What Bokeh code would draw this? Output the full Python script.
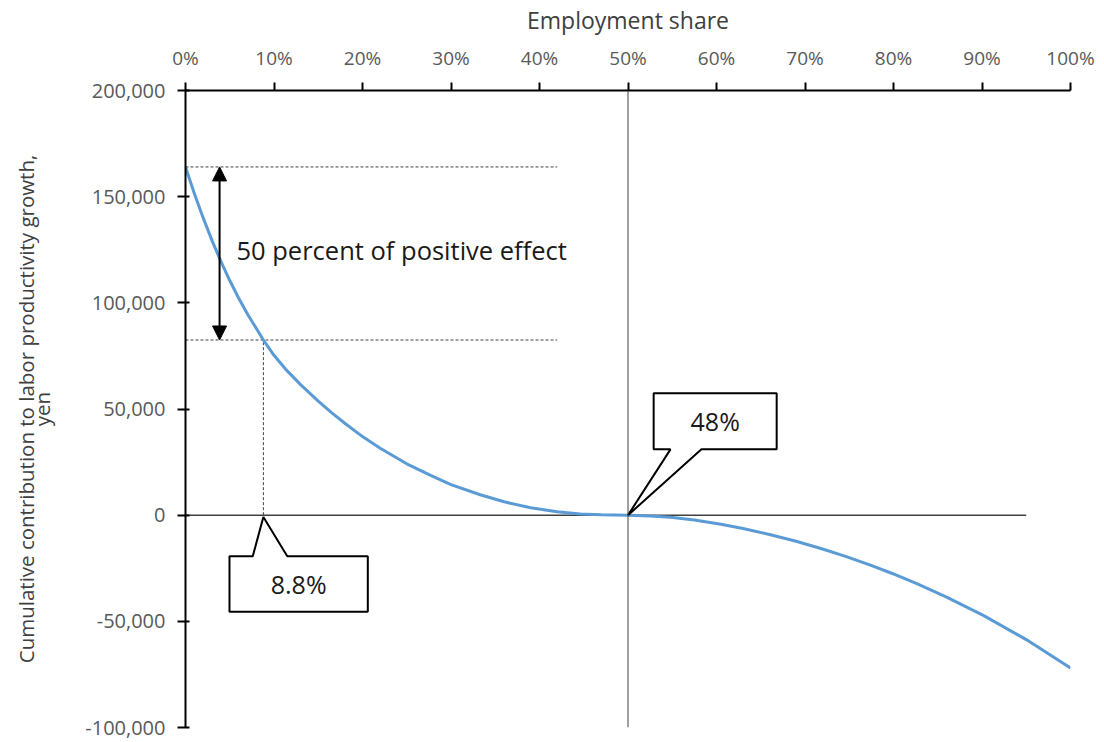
from bokeh.plotting import figure
from bokeh.models import (Range1d, FixedTicker, NumeralTickFormatter, Span, Arrow, NormalHead,
                          Label, LinearAxis)
from bokeh.embed import file_html
from bokeh.resources import INLINE

# ---- data ----
share = [0, 1, 2, 3, 4, 5, 6, 7, 8.8, 10, 11.3, 13, 15, 16.5, 18, 20, 22, 25, 27.7, 30, 33.3,
         36, 39, 42, 44.6, 47, 50, 52.5, 54.8, 57.5, 60.5, 63, 66.1, 69, 71.8, 74.5, 77.4, 80,
         82.7, 86, 90.2, 95, 100]
contribution = [164000, 151500, 140000, 129300, 119500, 110500, 102300, 94700, 82500, 75300,
                68800, 61500, 53700, 48300, 43300, 37000, 31500, 24200, 18700, 14400, 9600,
                6300, 3500, 1600, 600, 150, 0, -400, -1000, -2300, -4300, -6300, -9200, -12300,
                -15700, -19300, -23500, -27700, -32400, -38600, -47300, -58600, -72000]
x_ticks = [0, 10, 20, 30, 40, 50, 60, 70, 80, 90, 100]
x_tick_labels = ["0%", "10%", "20%", "30%", "40%", "50%", "60%", "70%", "80%", "90%", "100%"]
y_ticks = [-100000, -50000, 0, 50000, 100000, 150000, 200000]

total_effect = 164000          # cumulative positive effect
half_effect = 82500            # 50 percent of it
half_share = 8.8               # share reaching half of the effect
zero_share = 50                # vertical reference line
guide_end = 42                 # dashed guide end (share)
zero_line_end = 95
arrow_share = 3.85
effect_text = "50 percent of positive effect"
effect_text_pos = (5.76, 124900)

callout48 = dict(left=52.9, right=66.8, top=57400, bottom=31000, b0=54.8, b1=58.3, tx=50, ty=0,
                 text="48%", side="bottom")
callout88 = dict(left=4.97, right=20.6, top=-19300, bottom=-45500, b0=7.6, b1=11.5, tx=8.8, ty=-900,
                 text="8.8%", side="top")

FONT = "Open Sans"

p = figure(width=1096, height=742, x_range=Range1d(0, 100), y_range=Range1d(-100000, 200000),
           x_axis_location="above", output_backend="svg", toolbar_location=None,
           min_border_left=185, min_border_top=89, min_border_right=26, min_border_bottom=15)
p.grid.visible = False
p.outline_line_color = None
p.background_fill_color = "white"

# x axis (top)
xa = p.xaxis[0]
xa.ticker = FixedTicker(ticks=x_ticks)
xa.major_label_overrides = {t: l for t, l in zip(x_ticks, x_tick_labels)}
xa.axis_label = "Employment share"
xa.axis_label_text_font = FONT
xa.axis_label_text_font_size = "23px"
xa.axis_label_text_font_style = "normal"
xa.axis_label_text_color = "#404040"
xa.axis_label_standoff = 6
xa.major_label_text_font = FONT
xa.major_label_text_font_size = "19px"
xa.major_label_text_color = "#595959"
xa.major_label_standoff = 12
xa.major_tick_out = 8
xa.major_tick_in = 0
xa.minor_tick_out = 0
xa.minor_tick_in = 0
xa.axis_line_width = 2
xa.axis_line_color = "black"
xa.major_tick_line_width = 2
xa.major_tick_line_color = "black"

# y axis (left)
ya = p.yaxis[0]
ya.ticker = FixedTicker(ticks=y_ticks)
ya.formatter = NumeralTickFormatter(format="0,0")
ya.axis_label = "yen"
ya.axis_label_text_font = FONT
ya.axis_label_text_font_size = "20.5px"
ya.axis_label_text_font_style = "normal"
ya.axis_label_text_color = "#404040"
ya.axis_label_standoff = 26
ya.major_label_text_font = FONT
ya.major_label_text_font_size = "20px"
ya.major_label_text_color = "#595959"
ya.major_label_standoff = 12
ya.major_tick_out = 8
ya.major_tick_in = 4
ya.minor_tick_out = 0
ya.minor_tick_in = 0
ya.axis_line_width = 2
ya.axis_line_color = "black"
ya.major_tick_line_width = 2
ya.major_tick_line_color = "black"

# outer label line of the y title
ya2 = LinearAxis(ticker=FixedTicker(ticks=[]), axis_line_color=None, major_tick_line_color=None,
                 minor_tick_line_color=None, major_tick_out=0, major_tick_in=0,
                 minor_tick_out=0, minor_tick_in=0, major_label_text_font_size="0px",
                 axis_label="Cumulative contribution to labor productivity growth,",
                 axis_label_text_font=FONT, axis_label_text_font_size="20.5px",
                 axis_label_text_font_style="normal", axis_label_text_color="#404040",
                 axis_label_standoff=-14)
p.add_layout(ya2, "left")

# reference lines
p.add_layout(Span(location=zero_share, dimension="height", line_color="#404040", line_width=1))
p.line([0, zero_line_end], [0, 0], line_color="#404040", line_width=1.5)

# dashed guides
p.line([0, guide_end], [total_effect, total_effect], line_color="#404040", line_width=1, line_dash="3 2")
p.line([0, guide_end], [half_effect, half_effect], line_color="#404040", line_width=1, line_dash="3 2")
p.line([half_share, half_share], [0, half_effect], line_color="#404040", line_width=1, line_dash="3 2")

# curve
p.line(share, contribution, line_color="#5B9BD5", line_width=3, line_join="round")

# double arrow
p.add_layout(Arrow(x_start=arrow_share, y_start=half_effect, x_end=arrow_share, y_end=total_effect,
                   start=NormalHead(size=14, fill_color="black", line_color="black"),
                   end=NormalHead(size=14, fill_color="black", line_color="black"),
                   line_color="black", line_width=2))
p.add_layout(Label(x=effect_text_pos[0], y=effect_text_pos[1], text=effect_text,
                   text_font=FONT, text_font_size="25.5px", text_color="#1a1a1a",
                   text_baseline="middle", text_align="left"))


def callout(c):
    if c["side"] == "bottom":
        xs = [c["left"], c["right"], c["right"], c["b1"], c["tx"], c["b0"], c["left"]]
        ys = [c["top"], c["top"], c["bottom"], c["bottom"], c["ty"], c["bottom"], c["bottom"]]
    else:
        xs = [c["left"], c["b0"], c["tx"], c["b1"], c["right"], c["right"], c["left"]]
        ys = [c["top"], c["top"], c["ty"], c["top"], c["top"], c["bottom"], c["bottom"]]
    p.patch(xs, ys, fill_color="white", line_color="black", line_width=2)
    p.add_layout(Label(x=(c["left"] + c["right"]) / 2, y=(c["top"] + c["bottom"]) / 2, text=c["text"],
                       text_font=FONT, text_font_size="25px", text_color="#1a1a1a",
                       text_align="center", text_baseline="middle"))


callout(callout48)
callout(callout88)

open("out.html", "w").write(file_html(p, INLINE))
